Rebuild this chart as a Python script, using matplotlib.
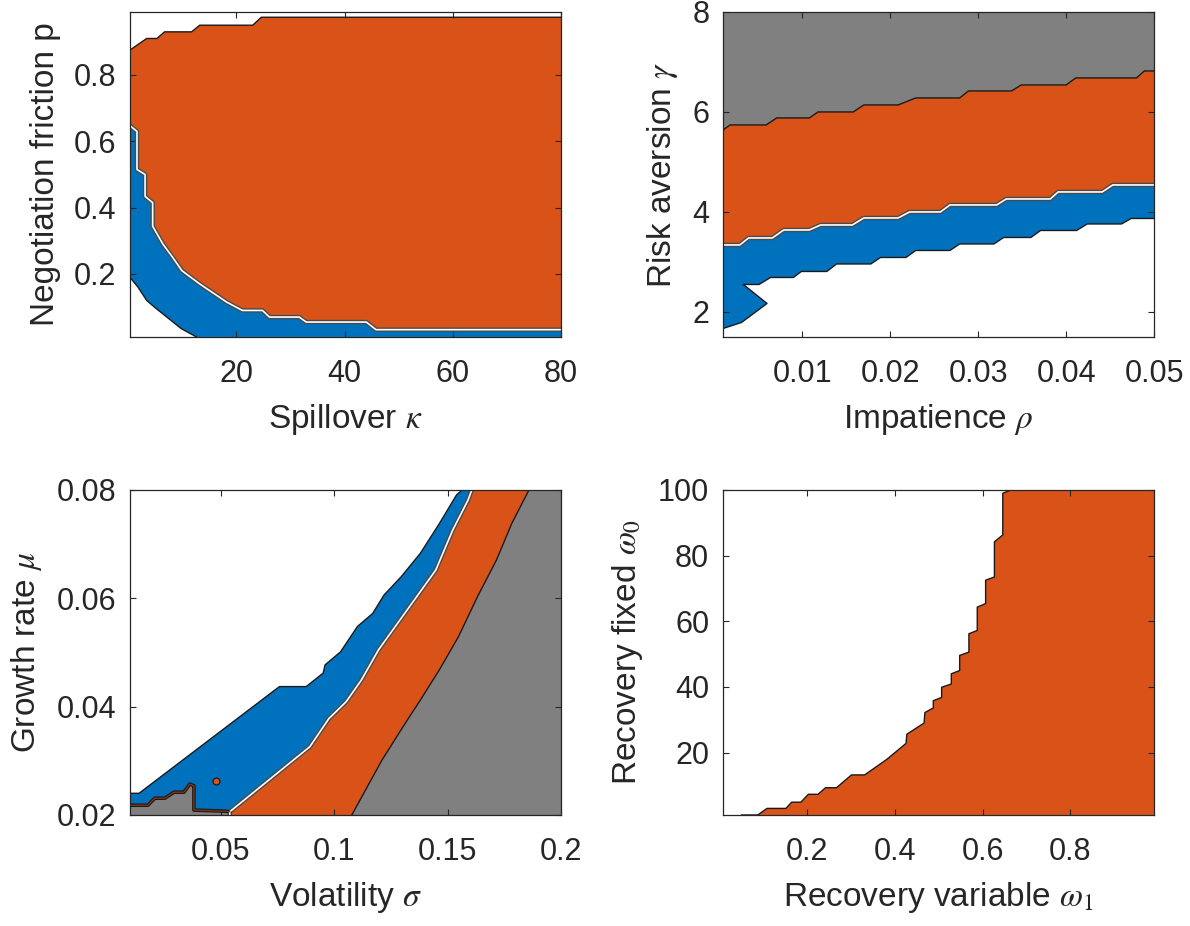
import matplotlib
matplotlib.use("Agg")
import matplotlib.pyplot as plt

plt.rcParams['font.family'] = ['Liberation Sans', 'DejaVu Sans']
plt.rcParams['mathtext.fontset'] = 'stix'

# colors (matlab defaults)
blue = "#0072BD"
orange = "#D95319"
gray = "#808080"
axcol = "#262626"

# ---- panel 1: spillover kappa vs negotiation friction p
kappa_lim = [0.3, 80]
p_lim = [0.01, 0.99]
kappa_top = [0.3, 3.4, 5.3, 6.7, 11.7, 13.2, 23, 24.6, 80]
p_top = [0.875, 0.91, 0.91, 0.93, 0.93, 0.95, 0.95, 0.974, 0.974]
kappa_mid = [0.3, 1.6, 1.6, 3.1, 3.1, 4.5, 4.5, 6.4, 8.2, 9.9, 13.2, 18.2, 21.1, 24.8, 26.1, 31.6, 32.9, 44, 45.8, 80]
p_mid = [0.647, 0.63, 0.515, 0.50, 0.434, 0.415, 0.344, 0.29, 0.25, 0.21, 0.17, 0.115, 0.09, 0.09, 0.07, 0.07, 0.055, 0.055, 0.032, 0.032]
kappa_low = [0.3, 1.8, 3.4, 5.2, 9.8, 12.6]
p_low = [0.19, 0.16, 0.12, 0.095, 0.035, 0.01]
kappa_ticks = [20, 40, 60, 80]
kappa_labels = ["20", "40", "60", "80"]
p_ticks = [0.2, 0.4, 0.6, 0.8]
p_labels = ["0.2", "0.4", "0.6", "0.8"]

# ---- panel 2: impatience rho vs risk aversion gamma
rho_lim = [0.001, 0.05]
gam_lim = [1.5, 8]
rho_go = [0.001, 0.0018, 0.0059, 0.0071, 0.0108, 0.0118, 0.0158, 0.017, 0.0209, 0.0229, 0.0279, 0.0289, 0.0338, 0.0349, 0.04, 0.0411, 0.048, 0.0489, 0.05]
gam_go = [5.64, 5.74, 5.74, 5.88, 5.88, 6.0, 6.0, 6.14, 6.14, 6.28, 6.28, 6.42, 6.42, 6.54, 6.54, 6.68, 6.68, 6.82, 6.82]
rho_ob = [0.001, 0.0029, 0.0039, 0.0066, 0.0079, 0.0108, 0.0121, 0.0157, 0.017, 0.0209, 0.0222, 0.0257, 0.0268, 0.0321, 0.0332, 0.0382, 0.0391, 0.0441, 0.0453, 0.05]
gam_ob = [3.34, 3.34, 3.48, 3.48, 3.64, 3.64, 3.74, 3.74, 3.88, 3.88, 4.0, 4.0, 4.14, 4.14, 4.26, 4.26, 4.4, 4.4, 4.54, 4.54]
rho_bw = [0.001, 0.0031, 0.0060, 0.0033, 0.0051, 0.0064, 0.0090, 0.0099, 0.0128, 0.0139, 0.0178, 0.0189, 0.0218, 0.0229, 0.0268, 0.0279, 0.0318, 0.0329, 0.036, 0.0371, 0.0412, 0.0424, 0.0463, 0.0474, 0.05]
gam_bw = [1.67, 1.79, 2.17, 2.55, 2.55, 2.69, 2.69, 2.81, 2.81, 2.96, 2.96, 3.09, 3.09, 3.23, 3.23, 3.36, 3.36, 3.49, 3.49, 3.63, 3.63, 3.76, 3.76, 3.87, 3.87]
rho_ticks = [0.01, 0.02, 0.03, 0.04, 0.05]
rho_labels = ["0.01", "0.02", "0.03", "0.04", "0.05"]
gam_ticks = [2, 4, 6, 8]
gam_labels = ["2", "4", "6", "8"]

# ---- panel 3: volatility sigma vs growth rate mu
sig_lim = [0.01, 0.2]
mu_lim = [0.02, 0.08]
sig_go = [0.1078, 0.1212, 0.1313, 0.138, 0.1464, 0.1548, 0.1632, 0.1716, 0.1783, 0.1859]
mu_go = [0.02, 0.0302, 0.0369, 0.0412, 0.0468, 0.0529, 0.0603, 0.0671, 0.0738, 0.08]
sig_ob = [0.054, 0.054, 0.0893, 0.0977, 0.1053, 0.112, 0.1196, 0.128, 0.1364, 0.1448, 0.1523, 0.159, 0.1607]
mu_ob = [0.02, 0.0206, 0.0326, 0.0378, 0.0409, 0.0449, 0.0505, 0.0554, 0.0603, 0.0652, 0.0726, 0.0781, 0.08]
sig_bw = [0.01, 0.014, 0.0759, 0.0877, 0.0952, 0.096, 0.1028, 0.1103, 0.117, 0.122, 0.1296, 0.138, 0.1464, 0.154, 0.1565]
mu_bw = [0.024, 0.024, 0.0437, 0.0437, 0.0462, 0.0477, 0.0501, 0.0548, 0.0572, 0.0606, 0.064, 0.0683, 0.0738, 0.0791, 0.08]
sig_gb = [0.01, 0.0179, 0.021, 0.0254, 0.0294, 0.0338, 0.0364, 0.0382, 0.0382, 0.0522, 0.054]
mu_gb = [0.0218, 0.0218, 0.0231, 0.0231, 0.0242, 0.0242, 0.0257, 0.0254, 0.0209, 0.0207, 0.0206]
sig_dot = [0.048]
mu_dot = [0.0262]
sig_ticks = [0.05, 0.1, 0.15, 0.2]
sig_labels = ["0.05", "0.1", "0.15", "0.2"]
mu_ticks = [0.02, 0.04, 0.06, 0.08]
mu_labels = ["0.02", "0.04", "0.06", "0.08"]

# ---- panel 4: recovery variable omega1 vs recovery fixed omega0
w1_lim = [0.01, 0.99]
w0_lim = [1, 100]
w1_b = [0.052, 0.089, 0.110, 0.153, 0.166, 0.187, 0.204, 0.226, 0.243, 0.268, 0.302, 0.332, 0.383, 0.426, 0.428, 0.467,
        0.469, 0.488, 0.488, 0.507, 0.507, 0.529, 0.529, 0.548, 0.548, 0.569, 0.569, 0.588, 0.588, 0.607, 0.607, 0.627,
        0.627, 0.646, 0.646, 0.665]
w0_b = [1, 1, 3.0, 3.0, 4.9, 4.9, 7.3, 7.3, 9.3, 9.3, 13.2, 13.2, 18.0, 22.8, 25.6, 29.0,
        32.2, 33.6, 35.8, 36.8, 39.9, 40.9, 44.0, 45.0, 49.6, 50.6, 56.2, 57.2, 64.3, 65.4, 72.5, 73.5,
        84.2, 86.3, 99.0, 100]
w1_ticks = [0.2, 0.4, 0.6, 0.8]
w1_labels = ["0.2", "0.4", "0.6", "0.8"]
w0_ticks = [20, 40, 60, 80, 100]
w0_labels = ["20", "40", "60", "80", "100"]


def region(ax, xs, ys, cx, cy, color):
    # one polygon: boundary followed by the axis corners that close it
    ax.fill(list(xs) + cx, list(ys) + cy, color=color, lw=0, zorder=1)


def black_line(ax, xs, ys):
    ax.plot(xs, ys, color="#1a1a1a", lw=1.0, zorder=3)


def double_line(ax, xs, ys):
    ax.plot(xs, ys, color="#4a4a4a", lw=3.2, zorder=3)
    ax.plot(xs, ys, color="white", lw=1.2, zorder=4)


def style(ax, xlim, ylim, xt, xl, yt, yl, xlabel, ylabel):
    ax.set_xlim(xlim)
    ax.set_ylim(ylim)
    ax.set_xticks(xt)
    ax.set_xticklabels(xl)
    ax.set_yticks(yt)
    ax.set_yticklabels(yl)
    ax.tick_params(direction="in", top=True, right=True, length=4, width=0.8,
                   colors=axcol, labelsize=22)
    ax.tick_params(axis="x", pad=16)
    ax.tick_params(axis="y", pad=10)
    for s in ax.spines.values():
        s.set_color(axcol)
        s.set_linewidth(0.9)
        s.set_zorder(5)
    ax.set_xlabel(xlabel, fontsize=24, color=axcol, labelpad=9)
    ax.set_ylabel(ylabel, fontsize=24, color=axcol, labelpad=9)


fig = plt.figure(figsize=(11.9, 9.26), dpi=100)
W = 0.3622
H = 0.351
ax1 = fig.add_axes([0.1092, 0.6361, W, H])
ax2 = fig.add_axes([0.6076, 0.6361, W, H])
ax3 = fig.add_axes([0.1092, 0.1199, W, H])
ax4 = fig.add_axes([0.6076, 0.1199, W, H])

# panel 1
region(ax1, kappa_low, p_low, [kappa_lim[1], kappa_lim[1], kappa_lim[0]], [p_lim[0], p_lim[1], p_lim[1]], blue)
region(ax1, kappa_mid, p_mid, [kappa_lim[1], kappa_lim[0]], [p_lim[1], p_lim[1]], orange)
region(ax1, kappa_top, p_top, [kappa_lim[1], kappa_lim[0]], [p_lim[1], p_lim[1]], "white")
black_line(ax1, kappa_top, p_top)
double_line(ax1, kappa_mid, p_mid)
black_line(ax1, kappa_low, p_low)
style(ax1, kappa_lim, p_lim, kappa_ticks, kappa_labels, p_ticks, p_labels,
      r"Spillover $\kappa$", "Negotiation friction p")

# panel 2
region(ax2, rho_bw, gam_bw, [rho_lim[1], rho_lim[0]], [gam_lim[1], gam_lim[1]], blue)
region(ax2, rho_ob, gam_ob, [rho_lim[1], rho_lim[0]], [gam_lim[1], gam_lim[1]], orange)
region(ax2, rho_go, gam_go, [rho_lim[1], rho_lim[0]], [gam_lim[1], gam_lim[1]], gray)
black_line(ax2, rho_go, gam_go)
double_line(ax2, rho_ob, gam_ob)
black_line(ax2, rho_bw, gam_bw)
style(ax2, rho_lim, gam_lim, rho_ticks, rho_labels, gam_ticks, gam_labels,
      r"Impatience $\rho$", r"Risk aversion $\gamma$")

# panel 3
region(ax3, sig_bw, mu_bw, [sig_lim[1], sig_lim[1], sig_lim[0]], [mu_lim[1], mu_lim[0], mu_lim[0]], blue)
region(ax3, sig_ob, mu_ob, [sig_lim[1], sig_lim[1]], [mu_lim[1], mu_lim[0]], orange)
region(ax3, sig_go, mu_go, [sig_lim[1], sig_lim[1]], [mu_lim[1], mu_lim[0]], gray)
region(ax3, sig_gb, mu_gb, [sig_gb[-1], sig_lim[0]], [mu_lim[0], mu_lim[0]], gray)
black_line(ax3, sig_go, mu_go)
double_line(ax3, sig_ob, mu_ob)
black_line(ax3, sig_bw, mu_bw)
ax3.plot(sig_gb, mu_gb, color="#1a1a1a", lw=2.6, zorder=3)
ax3.plot(sig_gb, mu_gb, color="#8a3510", lw=0.9, zorder=4)
ax3.plot(sig_dot, mu_dot, "o", ms=5, mfc=orange, mec="#1a1a1a", mew=0.9, zorder=4)
style(ax3, sig_lim, mu_lim, sig_ticks, sig_labels, mu_ticks, mu_labels,
      r"Volatility $\sigma$", r"Growth rate $\mu$")

# panel 4
region(ax4, w1_b, w0_b, [w1_lim[1], w1_lim[1]], [w0_lim[1], w0_lim[0]], orange)
black_line(ax4, w1_b, w0_b)
style(ax4, w1_lim, w0_lim, w1_ticks, w1_labels, w0_ticks, w0_labels,
      r"Recovery variable $\omega_1$", r"Recovery fixed $\omega_0$")

fig.savefig("out.png", dpi=100)
